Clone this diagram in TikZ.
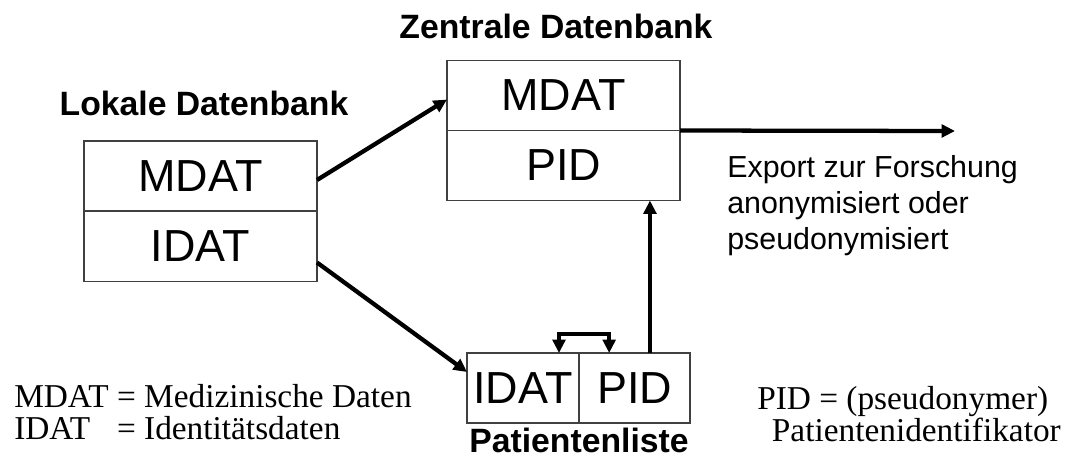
\documentclass[tikz,border=0pt]{standalone}
\usepackage{fontspec}
\setmainfont{Liberation Serif}
\setsansfont{Liberation Sans}
\usetikzlibrary{arrows.meta}

\begin{document}
\begin{tikzpicture}[x=0.75pt,y=-0.75pt,
  cell/.style={draw=black!75,line width=1.1pt,rectangle,inner sep=0pt,outer sep=0pt,
    minimum height=52.5pt,font=\sffamily\fontsize{33.7}{38}\selectfont},
  arr/.style={line width=3.2pt,-{Triangle[length=10pt,width=9.5pt]}},
  title/.style={font=\sffamily\bfseries\fontsize{25.3}{29}\selectfont,anchor=base,inner sep=0pt}]
\useasboundingbox (0,0) rectangle (1075,461);

% Lokale Datenbank
\node[cell,minimum width=174.75pt] (lmdat) at (200.5,176) {MDAT};
\node[cell,minimum width=174.75pt] (lidat) at (200.5,246.5) {IDAT};
\node[title] (ltitle) at (204,115) {Lokale Datenbank};

% Zentrale Datenbank
\node[cell,minimum width=174.75pt] (zmdat) at (563.5,95.5) {MDAT};
\node[cell,minimum width=174.75pt] (zpid) at (563.5,165.5) {PID};
\node[title] (ztitle) at (556,38) {Zentrale Datenbank};

% Patientenliste
\node[cell,minimum width=84pt] (pidat) at (523,388) {IDAT};
\node[cell,minimum width=83.25pt] (ppid) at (634.5,388) {PID};
\node[title] (ptitle) at (579,452) {Patientenliste};

% Pfeile
\draw[arr] ([yshift=-3pt]lmdat.east) -- ([yshift=-3pt]zmdat.west);
\draw[arr] ([yshift=-12pt]lidat.east) -- ([yshift=12pt]pidat.west);
\draw[arr] ([xshift=11.6pt]ppid.north) -- ([xshift=11.6pt]ppid.north |- zpid.south);
\draw[arr,{Triangle[length=10pt,width=9.5pt]}-{Triangle[length=10pt,width=9.5pt]}]
  ([xshift=27pt]pidat.north) -- ++(0,-19) -| ([xshift=-19pt]ppid.north);
\coordinate (exp) at (955,131);
\draw[arr] (zmdat.south east) -- (exp);

% Texte
\node[anchor=north west,inner sep=0pt,align=left,font=\sffamily\fontsize{22.8}{27}\selectfont]
  (export) at (727,155) {Export zur Forschung\\anonymisiert oder\\pseudonymisiert};
\node[anchor=north west,inner sep=0pt,font=\fontsize{25}{22.5}\selectfont]
  (legl) at (14,384) {\begin{tabular}{@{}l@{ }l@{}}MDAT&= Medizinische Daten\\IDAT&= Identitätsdaten\end{tabular}};
\node[anchor=north west,inner sep=0pt,align=left,font=\fontsize{25}{22.5}\selectfont]
  (legr) at (757,386) {PID = (pseudonymer)\\\hspace*{11pt}Patientenidentifikator};
\end{tikzpicture}
\end{document}
